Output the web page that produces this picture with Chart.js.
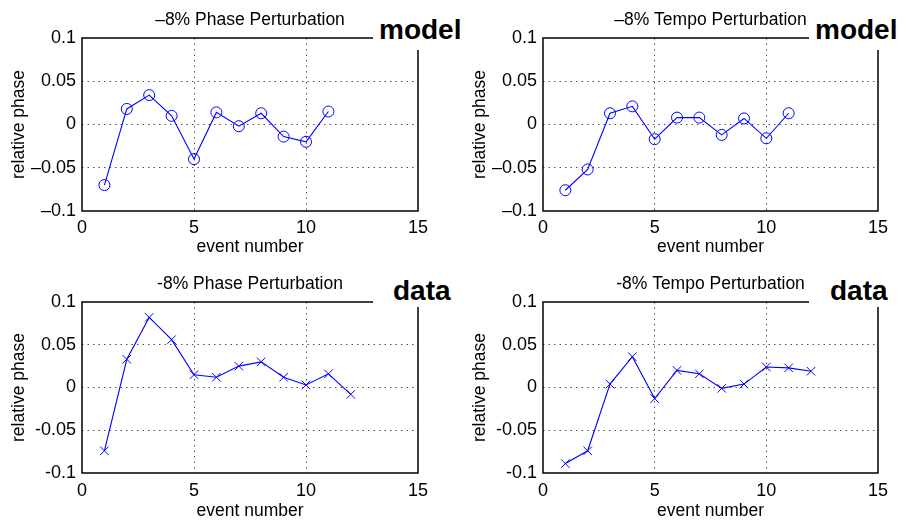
<!DOCTYPE html>
<html>
<head>
<meta charset="utf-8">
<script src="https://cdn.jsdelivr.net/npm/chart.js@4/dist/chart.umd.min.js"></script>
<style>
	body { margin: 0; background: #fff; }
	#wrap { position: relative; width: 906px; height: 525px; overflow: hidden; background: #fff; }
	canvas { position: absolute; }
	.tag { position: absolute; background: #fff; color: #000; box-sizing: border-box;
		font: bold 28px "Liberation Sans", Arial, sans-serif; line-height: 28px; }
</style>
</head>
<body>
<div id="wrap">
	<canvas id="model-phase" width="453" height="262" style="left:0;top:0"></canvas>
	<canvas id="model-tempo" width="445" height="262" style="left:461px;top:0"></canvas>
	<canvas id="data-phase" width="453" height="263" style="left:0;top:262px"></canvas>
	<canvas id="data-tempo" width="445" height="263" style="left:461px;top:262px"></canvas>
	<div class="tag" style="left:373px;top:0;width:92px;height:50px;padding:16px 0 0 6px">model</div>
	<div class="tag" style="left:809px;top:0;width:97px;height:50px;padding:16px 0 0 6px">model</div>
	<div class="tag" style="left:373px;top:262px;width:85px;height:45px;padding:15px 0 0 20px">data</div>
	<div class="tag" style="left:809px;top:262px;width:97px;height:45px;padding:15px 0 0 21px">data</div>
</div>
<script>
// Data
const MODEL_EVENTS = [1, 2, 3, 4, 5, 6, 7, 8, 9, 10, 11];
const DATA_EVENTS = [1, 2, 3, 4, 5, 6, 7, 8, 9, 10, 11, 12];
const MODEL_PHASE = [-0.070, 0.018, 0.034, 0.010, -0.040, 0.014, -0.002, 0.013, -0.014, -0.020, 0.015];
const MODEL_TEMPO = [-0.076, -0.052, 0.013, 0.021, -0.017, 0.008, 0.008, -0.012, 0.007, -0.016, 0.013];
const DATA_PHASE = [-0.074, 0.033, 0.082, 0.056, 0.015, 0.012, 0.025, 0.030, 0.012, 0.003, 0.016, -0.008];
const DATA_TEMPO = [-0.089, -0.074, 0.004, 0.036, -0.013, 0.020, 0.016, -0.001, 0.004, 0.024, 0.023, 0.019];

// Ticks
const X_TICKS = [0, 5, 10, 15];
const Y_TICKS = [-0.1, -0.05, 0, 0.05, 0.1];
const Y_LABELS_MODEL = ["\u20130.1", "\u20130.05", "0", "0.05", "0.1"];
const Y_LABELS_DATA = ["-0.1", "-0.05", "0", "0.05", "0.1"];

const FAMILY = '"Liberation Sans", Arial, sans-serif';
const TICK_FONT = { family: FAMILY, size: 18 };
const LABEL_FONT = { family: FAMILY, size: 17.5 };
const BLUE = "#0000ff";
const GRID = "#555";

const isEdge = (value, lo, hi) => Math.abs(value - lo) < 1e-9 || Math.abs(value - hi) < 1e-9;

// Black box round the plot area
const boxPlugin = {
	id: "box",
	beforeDatasetsDraw(chart) {
		const { ctx, chartArea: a } = chart;
		ctx.save();
		ctx.strokeStyle = "#000";
		ctx.lineWidth = 1.5;
		ctx.strokeRect(a.left, a.top, a.right - a.left, a.bottom - a.top);
		ctx.restore();
	},
};

const makePanel = (id, title, events, values, marker, yLabels, row) => {
	const el = document.getElementById(id);
	const top = row === 0;
	new Chart(el, {
		type: "line",
		data: {
			datasets: [
				{
					data: events.map((x, i) => ({ x, y: values[i] })),
					borderColor: BLUE,
					borderWidth: 1.1,
					tension: 0,
					pointStyle: marker,
					pointRadius: marker === "circle" ? 5.5 : 6,
					pointBorderColor: BLUE,
					pointBackgroundColor: "rgba(0,0,0,0)",
					pointBorderWidth: 1,
				},
			],
		},
		options: {
			responsive: false,
			animation: false,
			devicePixelRatio: 1,
			layout: { padding: { left: 0, right: el.width - 418 + (el.width === 445 ? 1 : 0), top: 0, bottom: 1 } },
			scales: {
				x: {
					type: "linear",
					min: 0,
					max: 15,
					afterBuildTicks: (axis) => { axis.ticks = X_TICKS.map((v) => ({ value: v })); },
					afterFit: (axis) => { axis.height = el.height - 211 - 1; },
					grid: {
						drawTicks: false,
						lineWidth: 1,
						color: (c) => (c.tick && isEdge(c.tick.value, 0, 15) ? "rgba(0,0,0,0)" : GRID),
					},
					border: { display: false, dash: [1.5, 4] },
					ticks: { padding: top ? 6 : 7, font: TICK_FONT, color: "#000", maxRotation: 0 },
					title: { display: true, text: "event number", font: LABEL_FONT, color: "#000", padding: { top: 0, bottom: top ? 3 : 2 } },
				},
				y: {
					type: "linear",
					min: -0.1,
					max: 0.1,
					afterBuildTicks: (axis) => { axis.ticks = Y_TICKS.map((v) => ({ value: v })); },
					afterFit: (axis) => { axis.width = 82; },
					grid: {
						drawTicks: false,
						lineWidth: 1,
						color: (c) => (c.tick && isEdge(c.tick.value, -0.1, 0.1) ? "rgba(0,0,0,0)" : GRID),
					},
					border: { display: false, dash: [1.5, 4] },
					ticks: {
						padding: 6,
						font: TICK_FONT,
						color: "#000",
						callback: (v) => yLabels[Y_TICKS.findIndex((t) => Math.abs(t - v) < 1e-9)],
					},
					title: { display: true, text: "relative phase", font: LABEL_FONT, color: "#000", padding: { top: 9, bottom: 0 } },
				},
			},
			plugins: {
				legend: { display: false },
				tooltip: { enabled: false },
				title: {
					display: true,
					text: title,
					fullSize: false,
					font: { ...LABEL_FONT, weight: "normal" },
					color: "#000",
					padding: { top: top ? 10 : 12, bottom: 7 },
				},
			},
		},
		plugins: [boxPlugin],
	});
};

makePanel("model-phase", "\u20138% Phase Perturbation", MODEL_EVENTS, MODEL_PHASE, "circle", Y_LABELS_MODEL, 0);
makePanel("model-tempo", "\u20138% Tempo Perturbation", MODEL_EVENTS, MODEL_TEMPO, "circle", Y_LABELS_MODEL, 0);
makePanel("data-phase", "-8% Phase Perturbation", DATA_EVENTS, DATA_PHASE, "crossRot", Y_LABELS_DATA, 1);
makePanel("data-tempo", "-8% Tempo Perturbation", DATA_EVENTS, DATA_TEMPO, "crossRot", Y_LABELS_DATA, 1);
</script>
</body>
</html>
